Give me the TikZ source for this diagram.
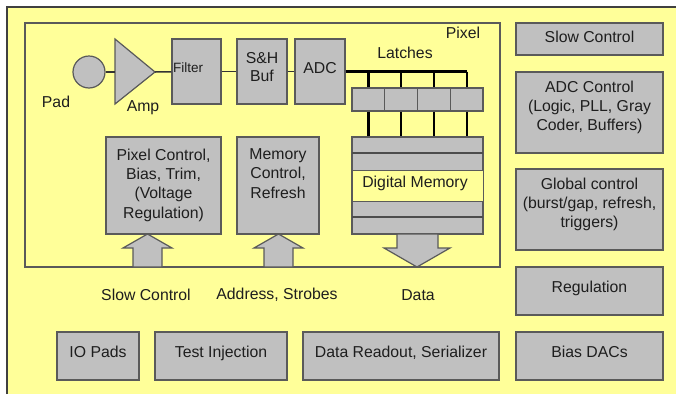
\documentclass[tikz,border=0pt]{standalone}
\usepackage{fontspec}
\setmainfont{Liberation Sans}
\definecolor{bgyellow}{HTML}{FFFF99}
\definecolor{boxgray}{HTML}{C0C0C0}
\definecolor{bordergray}{HTML}{5A5A5A}
\definecolor{outline}{HTML}{404040}
\definecolor{txt}{HTML}{1E1E1E}
\begin{document}
\begin{tikzpicture}[x=1pt,y=-1pt,
  box/.style={draw=bordergray, fill=boxgray, line width=1.2pt, inner sep=0pt,
    font=\fontsize{15.8}{19.3}\selectfont, text=txt, text height=11.5pt, text depth=8pt},
  lbl/.style={font=\fontsize{15.8}{19.3}\selectfont, text=txt, inner sep=0pt, align=center},
  wire/.style={draw=black!80, line width=1.5pt},
  bus/.style={draw=black, line width=2.2pt},
  sep/.style={draw=black!70, line width=1.8pt},
  blockarrow/.style={draw=bordergray, fill=boxgray, line width=1.2pt, line join=miter}]

\useasboundingbox (0,0) rectangle (676,394);
\fill[bgyellow] (7,7) rectangle (676,394);
\draw[outline, line width=1.5pt] (7,394) -- (7,7) -- (676,7);

% pixel frame
\node[draw=bordergray, fill=bgyellow, line width=1.2pt, minimum width=475pt, minimum height=244pt, inner sep=0pt] (pixel) at (262.5,145) {};
\node[lbl] (pixellbl) at (463,33) {Pixel};

% front-end chain
\node[circle, draw=bordergray, fill=boxgray, line width=1.2pt, minimum size=32pt, inner sep=0pt] (pad) at (89,72) {};
\node[lbl] (padlbl) at (56,102) {Pad};
\draw[blockarrow] (115,39) -- (155,72) -- (115,104) -- cycle;
\coordinate (ampin) at (115,72);
\coordinate (ampout) at (155,72);
\node[lbl] (amplbl) at (143,108) {Amp};

\node[box, minimum width=49pt, minimum height=65pt] (filter) at (196.5,71.5) {};
\node[lbl, font=\fontsize{13.5}{16}\selectfont, anchor=west] (filterlbl) at (173,68) {Filter};
\node[box, minimum width=50pt, minimum height=65pt] (sh) at (262,71.5) {};
\node[lbl, font=\fontsize{15.8}{17.5}\selectfont] (shlbl) at (262,67) {S\&H\\Buf};
\node[box, minimum width=50pt, minimum height=65pt] (adc) at (320,71.5) {ADC};

\draw[wire] (pad) -- (ampin);
\draw[wire] (ampout) -- (filter);
\draw[wire] (filter) -- (sh);
\draw[wire] (sh) -- (adc);

% latches
\node[lbl] (latchlbl) at (405,53) {Latches};
\foreach \i/\x in {1/368.4, 2/401.1, 3/433.9, 4/466.6}
  \node[box, minimum width=32.75pt, minimum height=23pt] (l\i) at (\x,99.5) {};

% memory
\node[box, minimum width=131pt, minimum height=97pt] (mem) at (417.5,185.5) {};
\node[draw=bordergray, fill=bgyellow, line width=0.8pt, minimum width=131pt, minimum height=31pt, inner sep=0pt] (digmem) at (417.5,185.5) {};
\node[lbl] (digmemlbl) at (415,183.5) {Digital Memory};
\draw[sep] (352,153) -- (483,153);
\draw[sep] (352,217) -- (483,217);
\draw[bordergray, line width=1.2pt] (mem.north west) rectangle (mem.south east);

\draw[bus] (adc.east) -- (l4.north |- adc.east);
\foreach \i in {1,2,3,4} {
  \draw[bus] (l\i.north |- adc.east) -- (l\i.north);
  \draw[bus] (l\i.south) -- (l\i.south |- mem.north);
}

% control boxes in pixel
\node[box, minimum width=115pt, minimum height=97pt] (pixctl) at (163.5,185.5) {};
\node[lbl, anchor=north] (pixctllbl) at (163.5,148.5) {Pixel Control,\\Bias, Trim,\\(Voltage\\Regulation)};
\node[box, minimum width=82pt, minimum height=97pt] (memctl) at (278,185.5) {};
\node[lbl, anchor=north] (memctllbl) at (278,148.5) {Memory\\Control,\\Refresh};

% block arrows
\draw[blockarrow] (147.5,234) -- (172,248) -- (162,248) -- (162,267) -- (133,267) -- (133,248) -- (123,248) -- cycle;
\draw[blockarrow] (278.5,234) -- (303,248) -- (293,248) -- (293,267) -- (264,267) -- (264,248) -- (254,248) -- cycle;
\draw[blockarrow] (397,234) -- (438,234) -- (438,248) -- (450,248) -- (417,267) -- (384,248) -- (397,248) -- cycle;

\node[lbl] (slowlbl) at (146,295) {Slow Control};
\node[lbl] (addrlbl) at (277,295) {Address, Strobes};
\node[lbl] (datalbl) at (418,295) {Data};

% right column
\node[box, minimum width=147pt, minimum height=32pt, text depth=5pt] (slowctl) at (589.5,39) {Slow Control};
\node[box, minimum width=147pt, minimum height=81pt] (adcctl) at (589.5,112.5) {};
\node[lbl, anchor=north] (adcctllbl) at (589.5,80.5) {ADC Control\\(Logic, PLL, Gray\\Coder, Buffers)};
\node[box, minimum width=147pt, minimum height=81pt] (globctl) at (589.5,209.5) {};
\node[lbl, anchor=north] (globctllbl) at (589.5,177.5) {Global control\\(burst/gap, refresh,\\triggers)};
\node[box, minimum width=147pt, minimum height=48pt] (reg) at (589.5,291) {Regulation};
\node[box, minimum width=147pt, minimum height=48pt] (biasdac) at (589.5,356) {Bias DACs};

% bottom row
\node[box, minimum width=82pt, minimum height=48pt] (iopads) at (98,356) {IO Pads};
\node[box, minimum width=132pt, minimum height=48pt] (testinj) at (221,356) {Test Injection};
\node[box, minimum width=196pt, minimum height=48pt] (readout) at (401,356) {Data Readout, Serializer};
\end{tikzpicture}
\end{document}
